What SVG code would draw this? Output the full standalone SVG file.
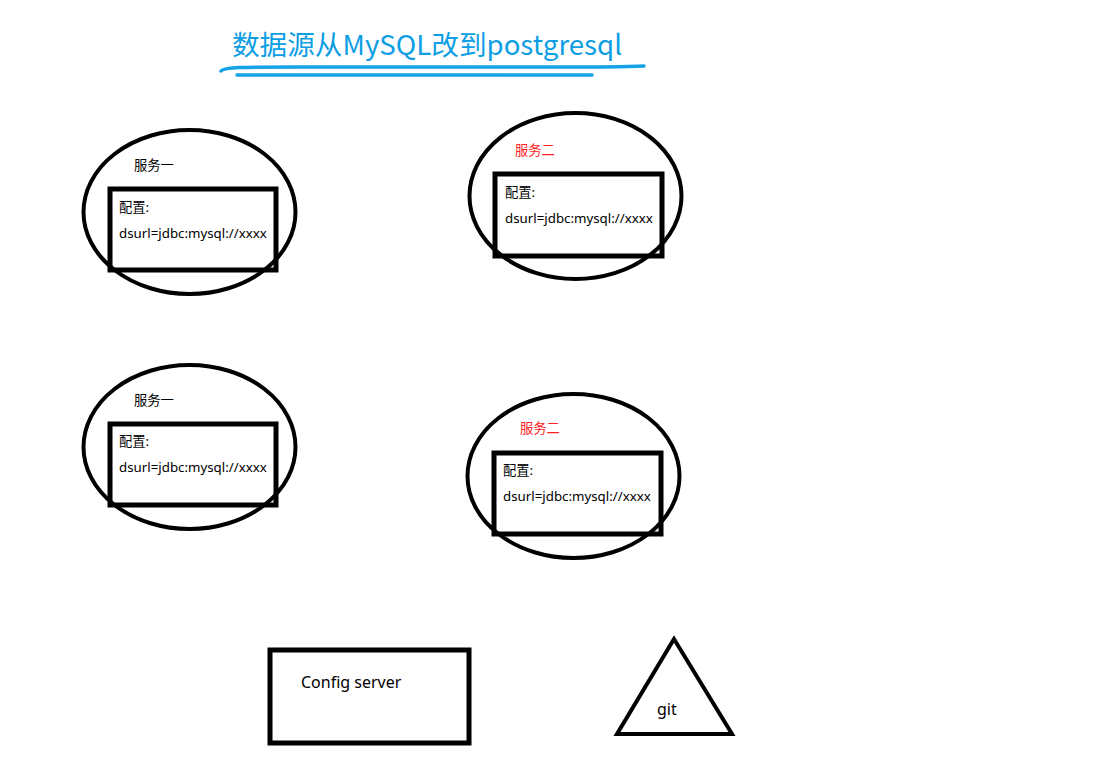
<svg xmlns="http://www.w3.org/2000/svg" width="1097" height="760" viewBox="0 0 1097 760">
<style>
.sh{fill:none;stroke:#000;stroke-width:4}
.bx{fill:none;stroke:#000;stroke-width:5}
.t{font-family:"Noto Sans","Noto Sans CJK SC",sans-serif;font-size:13.3px;fill:#000}
.r{fill:#ff2020}
.title{font-family:"Noto Sans CJK SC","Noto Sans",sans-serif;font-size:27.5px;fill:#0d9ee4}
.ul{fill:none;stroke:#14a3e6;stroke-width:3.5;stroke-linecap:round}
</style>
<rect width="1097" height="760" fill="#fff"/>
<g id="title">
<text class="title" x="232" y="55" textLength="390" lengthAdjust="spacingAndGlyphs">数据源从MySQL改到postgresql</text>
<path class="ul" d="M221,71 C224,67 240,67 300,67 L600,67 C625,67 640,66 644,66"/>
<path class="ul" d="M237,75 L592,75"/>
</g>
<g id="svc1a">
<ellipse class="sh" cx="189.5" cy="212" rx="106" ry="82"/>
<rect class="bx" x="110" y="189" width="166" height="81"/>
<text class="t" x="134" y="170">服务一</text>
<text class="t" x="119" y="212">配置:</text>
<text class="t" x="119" y="238">dsurl=jdbc:mysql://xxxx</text>
</g>
<g id="svc2a">
<ellipse class="sh" cx="575.5" cy="196" rx="106" ry="83"/>
<rect class="bx" x="495" y="174" width="167" height="82"/>
<text class="t r" x="515" y="155">服务二</text>
<text class="t" x="505" y="197">配置:</text>
<text class="t" x="505" y="223">dsurl=jdbc:mysql://xxxx</text>
</g>
<g id="svc1b">
<ellipse class="sh" cx="189.5" cy="447" rx="106" ry="82"/>
<rect class="bx" x="110" y="424" width="166" height="81"/>
<text class="t" x="134" y="405">服务一</text>
<text class="t" x="119" y="446">配置:</text>
<text class="t" x="119" y="472">dsurl=jdbc:mysql://xxxx</text>
</g>
<g id="svc2b">
<ellipse class="sh" cx="573.5" cy="476" rx="106" ry="82"/>
<rect class="bx" x="494" y="453" width="167" height="81"/>
<text class="t r" x="520" y="433">服务二</text>
<text class="t" x="503" y="475">配置:</text>
<text class="t" x="503" y="501">dsurl=jdbc:mysql://xxxx</text>
</g>
<g id="config-server">
<rect class="bx" x="270" y="650" width="199" height="93"/>
<text class="t" x="301" y="688" style="font-size:16px">Config server</text>
</g>
<g id="git">
<polygon class="sh" points="674,639 617,734 732,734" stroke-linejoin="miter"/>
<text class="t" x="657" y="715" style="font-size:16px">git</text>
</g>
<g id="connectors"></g>
</svg>
